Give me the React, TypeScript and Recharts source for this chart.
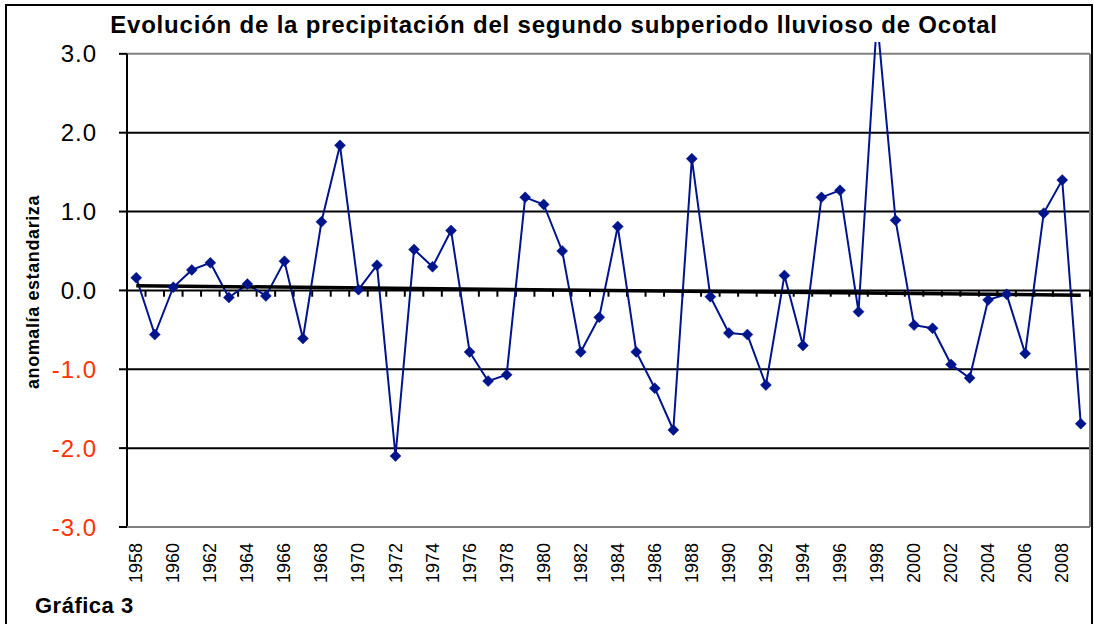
import React from 'react';
import { LineChart, Line, XAxis, YAxis, ReferenceLine } from 'recharts';

const years = [
  '1958', '1959', '1960', '1961', '1962', '1963', '1964', '1965', '1966', '1967',
  '1968', '1969', '1970', '1971', '1972', '1973', '1974', '1975', '1976', '1977',
  '1978', '1979', '1980', '1981', '1982', '1983', '1984', '1985', '1986', '1987',
  '1988', '1989', '1990', '1991', '1992', '1993', '1994', '1995', '1996', '1997',
  '1998', '1999', '2000', '2001', '2002', '2003', '2004', '2005', '2006', '2007',
  '2008', '2009',
];

const anomalies = [
  0.16, -0.56, 0.04, 0.26, 0.35, -0.09, 0.08, -0.07, 0.37, -0.61,
  0.87, 1.84, 0.01, 0.32, -2.1, 0.52, 0.3, 0.76, -0.78, -1.15,
  -1.07, 1.18, 1.09, 0.5, -0.78, -0.34, 0.81, -0.78, -1.24, -1.77,
  1.67, -0.08, -0.54, -0.56, -1.2, 0.19, -0.7, 1.18, 1.27, -0.27,
  3.45, 0.89, -0.44, -0.48, -0.94, -1.11, -0.12, -0.05, -0.8, 0.98,
  1.4, -1.69,
];

const yTicks = [-3, -2, -1, 0, 1, 2, 3];
const gridValues = [-2, -1, 1, 2];
const trendStart = 0.06;
const trendEnd = -0.06;

const title = 'Evolución de la precipitación del segundo subperiodo lluvioso de Ocotal';
const yTitle = 'anomalía estandariza';
const caption = 'Gráfica 3';

const data = years.map((year, i) => ({ year, value: anomalies[i] }));

const FONT = '"Liberation Sans", Arial, sans-serif';
const NAVY = '#00148c';

const Diamond = (props: any) => {
  const { cx, cy, index } = props;
  if (cx == null || cy == null || isNaN(cx) || isNaN(cy)) return null;
  const r = 5.5;
  return (
    <polygon
      key={`dm-${index}`}
      points={`${cx},${cy - r} ${cx + r},${cy} ${cx},${cy + r} ${cx - r},${cy}`}
      fill={NAVY}
      stroke={NAVY}
      strokeWidth={0.5}
    />
  );
};

const YTick = (props: any) => {
  const { x, y, payload } = props;
  const v = Number(payload.value);
  return (
    <text
      x={x}
      y={y}
      textAnchor="end"
      dominantBaseline="central"
      fontFamily={FONT}
      fontSize={24}
      letterSpacing={1}
      fill={v < 0 ? '#ff3300' : '#000'}
    >
      {v.toFixed(1)}
    </text>
  );
};

const XTick = (props: any) => {
  const { x, y, payload } = props;
  return (
    <text
      x={x}
      y={y}
      transform={`rotate(-90 ${x} ${y})`}
      textAnchor="end"
      dominantBaseline="central"
      fontFamily={FONT}
      fontSize={18}
      fill="#000"
    >
      {payload.value}
    </text>
  );
};

export default function App() {
  return (
    <div
      style={{
        position: 'absolute',
        left: 0,
        top: 0,
        width: 1094,
        height: 624,
        overflow: 'hidden',
        background: '#fff',
      }}
    >
      <div
        style={{
          position: 'absolute',
          left: 5,
          top: 4,
          width: 1088,
          height: 700,
          boxSizing: 'border-box',
          border: '2px solid #000',
        }}
      />
      <div style={{ position: 'absolute', left: 0, top: 0 }}>
        <LineChart
          width={1094}
          height={624}
          data={data}
          margin={{ top: 42, right: 4, bottom: 37, left: 0 }}
        >
          <XAxis
            dataKey="year"
            scale="band"
            interval={1}
            tickLine={false}
            tickSize={6}
            tickMargin={10}
            height={60}
            axisLine={{ stroke: '#808080', strokeWidth: 2 }}
            tick={<XTick />}
          />
          <YAxis
            type="number"
            domain={[-3, 3.15]}
            ticks={yTicks}
            allowDataOverflow
            width={127}
            axisLine={false}
            tickSize={8}
            tickMargin={22}
            tickLine={{ stroke: '#000', strokeWidth: 2 }}
            tick={<YTick />}
          />
          {gridValues.map((g) => (
            <ReferenceLine key={`g${g}`} y={g} stroke="#000" strokeWidth={2} />
          ))}
          <ReferenceLine y={3} stroke="#808080" strokeWidth={2} />
          <ReferenceLine
            segment={[{ x: years[years.length - 1], y: -3 }, { x: years[years.length - 1], y: 3 }]}
            position="end"
            stroke="#808080"
            strokeWidth={2}
          />
          <ReferenceLine
            segment={[{ x: years[0], y: -3 }, { x: years[0], y: 3 }]}
            position="start"
            stroke="#000"
            strokeWidth={2}
          />
          <ReferenceLine y={0} stroke="#000" strokeWidth={2} />
          {years.map((yr) => (
            <ReferenceLine
              key={`t${yr}`}
              segment={[{ x: yr, y: 0 }, { x: yr, y: -0.08 }]}
              position="end"
              stroke="#000"
              strokeWidth={2}
            />
          ))}
          <Line
            type="linear"
            dataKey="value"
            stroke={NAVY}
            strokeWidth={2}
            dot={(p: any) => <Diamond key={`d${p.index}`} {...p} />}
            activeDot={false}
            isAnimationActive={false}
          />
          <ReferenceLine
            segment={[{ x: years[0], y: trendStart }, { x: years[years.length - 1], y: trendEnd }]}
            stroke="#000"
            strokeWidth={3.5}
          />
        </LineChart>
      </div>
      <svg
        width={1094}
        height={624}
        style={{ position: 'absolute', left: 0, top: 0, pointerEvents: 'none' }}
      >
        <text
          x={554}
          y={33}
          textAnchor="middle"
          fontFamily={FONT}
          fontWeight="bold"
          fontSize={24}
          letterSpacing={0.8}
          fill="#000"
        >
          {title}
        </text>
        <text
          x={33}
          y={292}
          transform="rotate(-90 33 292)"
          textAnchor="middle"
          dominantBaseline="central"
          fontFamily={FONT}
          fontWeight="bold"
          fontSize={18}
          letterSpacing={0.6}
          fill="#000"
        >
          {yTitle}
        </text>
        <text
          x={35}
          y={613}
          fontFamily={FONT}
          fontWeight="bold"
          fontSize={22}
          letterSpacing={0.5}
          fill="#000"
        >
          {caption}
        </text>
      </svg>
    </div>
  );
}
